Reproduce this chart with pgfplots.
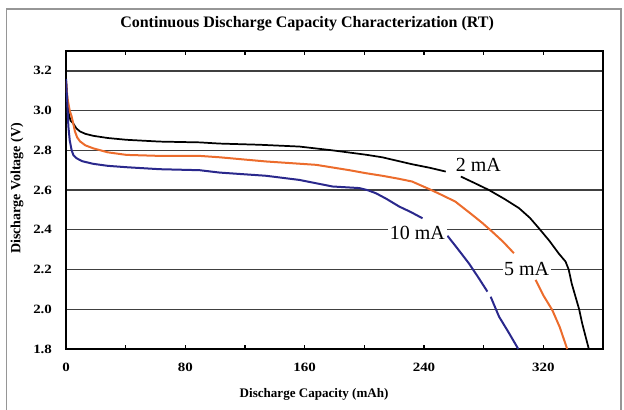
\documentclass[border=0pt]{standalone}
\usepackage{fontspec}
\setmainfont{Liberation Serif}
\newfontfamily\tickfont[FakeStretch=1.18]{Liberation Serif}
\usepackage{pgfplots}
\pgfplotsset{compat=1.18}

\definecolor{curveorange}{RGB}{236,108,44}
\definecolor{curveblue}{RGB}{42,40,140}
\definecolor{framegray}{RGB}{150,150,150}

\begin{document}
\begin{tikzpicture}
\useasboundingbox (-49.5pt,-45.75pt) rectangle (418.5pt,261.75pt);
\draw[framegray, line width=1.3pt] (-44.6pt,-50pt) -- (-44.6pt,255pt) -- (416.25pt,255pt) -- (416.25pt,-50pt);
\begin{axis}[
    at={(0,0)}, anchor=south west,
    scale only axis,
    width=402.75pt, height=223.5pt,
    xmin=0, xmax=360, ymin=1.8, ymax=3.3,
    xtick={0,80,160,240,320},
    minor xtick={40,120,200,280},
    ytick={1.8,2,2.2,2.4,2.6,2.8,3,3.2},
    yticklabel style={/pgf/number format/fixed, /pgf/number format/fixed zerofill, /pgf/number format/precision=1, anchor=east, xshift=-7pt},
    xticklabel style={anchor=north, yshift=-7pt},
    /pgf/number format/assume math mode=true,
    ticklabel style={font=\tickfont\bfseries\fontsize{9.5}{11}\selectfont},
    tick align=inside,
    major tick length=3pt, minor tick length=3pt,
    xtick style={black, line width=0.8pt},
    minor tick style={black, line width=0.8pt},
    ytick style={draw=none},
    ymajorgrids,
    major grid style={black!75, line width=1pt},
    axis line style={black, line width=1.8pt},
    unbounded coords=jump,
    title={Continuous Discharge Capacity Characterization (RT)},
    title style={at={(0.449,1.0513)}, anchor=base, font=\fontsize{12}{14}\selectfont\bfseries},
    xlabel={Discharge Capacity (mAh)},
    xlabel style={at={(0.462,-0.164)}, anchor=base, font=\fontsize{9.8}{11}\selectfont\bfseries},
    ylabel={Discharge Voltage (V)},
    ylabel style={at={(-0.0912,0.5386)}, anchor=center, font=\fontsize{10.5}{12}\selectfont\bfseries},
]
% 2 mA
\addplot[black, line width=1.3pt] coordinates {
(0,3.16) (1,3.05) (2,2.98) (3,2.95) (4.9,2.935) (7,2.91) (9.4,2.895) (13,2.883)
(18.3,2.873) (28,2.862) (40.6,2.853) (62.9,2.844) (89.6,2.84) (103,2.834)
(130,2.828) (156.5,2.819) (178.6,2.80) (201,2.778) (212,2.765) (223.4,2.745)
(232,2.73) (244,2.712) (254.6,2.693) (255,nan) (264.7,2.668) (274,2.635)
(283.6,2.60) (294,2.555) (303.7,2.509) (311,2.46) (317,2.408) (324,2.345)
(330.4,2.28) (334.9,2.24) (337,2.2) (339,2.13) (341.5,2.065) (344,2.0)
(346,1.93) (350.5,1.8)
};
% 5 mA
\addplot[curveorange, line width=1.5pt] coordinates {
(0,3.15) (1,3.06) (2.5,3.0) (3.8,2.97) (5,2.93) (6,2.895) (7.5,2.865) (9.4,2.845)
(13,2.825) (18.3,2.81) (28,2.79) (40.6,2.777) (62.9,2.772) (89.6,2.772)
(103,2.765) (134,2.744) (167.7,2.727) (190,2.70) (201,2.685) (212,2.672)
(223,2.657) (232,2.643) (243.5,2.605) (252,2.575) (261,2.542) (272.4,2.475)
(279,2.435) (285.8,2.39) (293,2.34) (300.3,2.282) (301,nan) (314.8,2.148)
(320,2.07) (326,1.996) (331,1.91) (336,1.8)
};
% 10 mA
\addplot[curveblue, line width=1.5pt] coordinates {
(0,3.16) (0.8,3.05) (1.6,2.92) (2.5,2.85) (3.8,2.80) (5,2.775) (7.1,2.76)
(11,2.745) (18.3,2.732) (28,2.722) (40.6,2.715) (62.9,2.705) (89.6,2.70)
(103,2.688) (134,2.672) (156.5,2.651) (178.6,2.618) (196.7,2.61) (202,2.60)
(207.8,2.584) (215,2.555) (223.4,2.517) (231,2.49) (239,2.458) (240,nan)
(255.7,2.37) (262,2.31) (270,2.232) (276,2.165) (282.5,2.089) (283,nan)
(284.7,2.063) (290.3,1.963) (297,1.88) (303.2,1.8)
};
\node[font=\fontsize{15}{17}\selectfont, fill=white, inner sep=1.2pt] at (axis cs:276.4,2.729) {2 mA};
\node[font=\fontsize{15}{17}\selectfont, fill=white, inner sep=1.2pt] at (axis cs:235.6,2.385) {10 mA};
\node[font=\fontsize{15}{17}\selectfont, fill=white, inner sep=1.2pt] at (axis cs:308.8,2.204) {5 mA};
\end{axis}
\end{tikzpicture}
\end{document}
